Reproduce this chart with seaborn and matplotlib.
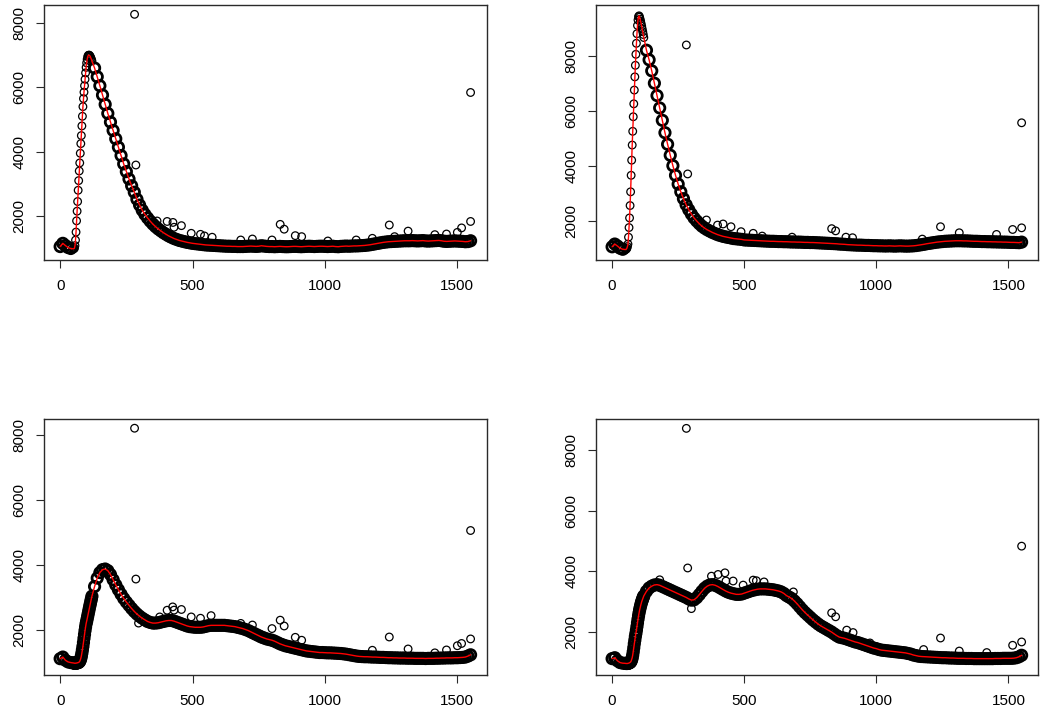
import matplotlib
matplotlib.use("Agg")
import matplotlib.pyplot as plt
import numpy as np
import seaborn as sns

sns.set_style("ticks")
plt.rcParams['font.family'] = ['Liberation Sans', 'DejaVu Sans']

# ---------------- data ----------------
time_head = [0, 10, 20, 30, 40]
time_rise = list(range(50, 121, 2))
time_tail = list(range(130, 1551, 10))
time = time_head + time_rise + time_tail

# panel A (top left)
a_head = [1050, 1150, 1080, 1020, 990]
a_rise = [980, 985, 1000, 1080, 1250, 1500, 1850, 2150, 2450, 2800,
          3100, 3400, 3650, 3950, 4250, 4500, 4800, 5100, 5400, 5650,
          5850, 6050, 6250, 6450, 6620, 6760, 6870, 6950, 6990, 7000,
          7000, 6980, 6950, 6910, 6870, 6820]
a_tail = [6600, 6330, 6050, 5760, 5470, 5190, 4920, 4660, 4400, 4140,
          3880, 3620, 3380, 3150, 2940, 2740, 2520, 2340, 2180, 2050,
          1940, 1840, 1750, 1670, 1600, 1540, 1480, 1430, 1380, 1340,
          1300, 1270, 1240, 1220, 1200, 1180, 1165, 1150, 1140, 1130,
          1120, 1110, 1100, 1095, 1090, 1085, 1080, 1075, 1070, 1065,
          1060, 1060, 1055, 1055, 1050, 1050, 1050, 1055, 1060, 1065,
          1060, 1055, 1060, 1075, 1065, 1055, 1050, 1050, 1045, 1050,
          1055, 1050, 1045, 1045, 1050, 1055, 1055, 1050, 1045, 1050,
          1055, 1060, 1055, 1050, 1055, 1060, 1060, 1055, 1050, 1055,
          1060, 1050, 1045, 1055, 1060, 1065, 1060, 1065, 1070, 1070,
          1075, 1080, 1085, 1095, 1105, 1120, 1135, 1150, 1165, 1180,
          1190, 1200, 1205, 1210, 1215, 1220, 1225, 1230, 1230, 1230,
          1235, 1230, 1225, 1230, 1235, 1225, 1220, 1225, 1230, 1235,
          1240, 1230, 1215, 1210, 1215, 1220, 1225, 1220, 1215, 1210,
          1200, 1205, 1230]
a_out_x = [281, 286, 1550, 1550, 831, 846, 1243, 1314, 1516, 366, 404, 426, 430,
           458, 495, 530, 545, 574, 682, 726, 800, 888, 912, 1011, 1118, 1179,
           1263, 1415, 1459, 1500]
a_out_y = [8270, 3585, 5840, 1830, 1740, 1590, 1720, 1530, 1630, 1845, 1830, 1800,
           1650, 1700, 1462, 1430, 1380, 1340, 1254, 1285, 1254, 1389, 1358, 1223,
           1254, 1306, 1358, 1420, 1440, 1490]

# panel B (top right)
b_head = [1050, 1150, 1080, 1000, 960]
b_rise = [950, 955, 970, 1000, 1060, 1150, 1400, 1750, 2100, 2550,
          3050, 3650, 4200, 4750, 5250, 5780, 6250, 6750, 7230, 7650,
          8050, 8450, 8800, 9100, 9300, 9420, 9450, 9400, 9330, 9250,
          9160, 9070, 8970, 8870, 8770, 8660]
b_tail = [8200, 7850, 7450, 7000, 6550, 6100, 5650, 5200, 4780, 4380,
          4000, 3650, 3330, 3050, 2800, 2580, 2400, 2240, 2100, 1990,
          1890, 1800, 1730, 1670, 1620, 1570, 1530, 1490, 1460, 1430,
          1410, 1390, 1370, 1350, 1340, 1330, 1320, 1300, 1295, 1290,
          1285, 1280, 1275, 1270, 1265, 1260, 1255, 1250, 1250, 1245,
          1240, 1240, 1235, 1235, 1230, 1225, 1225, 1220, 1220, 1215,
          1210, 1210, 1205, 1205, 1200, 1195, 1190, 1185, 1180, 1175,
          1170, 1165, 1160, 1150, 1145, 1140, 1130, 1125, 1120, 1115,
          1110, 1110, 1105, 1100, 1100, 1095, 1090, 1090, 1085, 1085,
          1080, 1080, 1085, 1080, 1075, 1080, 1085, 1080, 1075, 1075,
          1080, 1085, 1095, 1110, 1125, 1140, 1160, 1175, 1190, 1205,
          1220, 1230, 1240, 1250, 1255, 1260, 1265, 1270, 1270, 1270,
          1265, 1265, 1260, 1255, 1250, 1250, 1245, 1240, 1240, 1235,
          1235, 1230, 1230, 1225, 1225, 1220, 1220, 1215, 1210, 1210,
          1205, 1200, 1220]
b_out_x = [281, 286, 1550, 1550, 831, 846, 1243, 1314, 1516, 357, 399, 420, 450,
           488, 534, 568, 681, 885, 910, 1174, 1455]
b_out_y = [8390, 3700, 5560, 1740, 1710, 1630, 1780, 1560, 1680, 2025, 1840, 1880,
           1780, 1600, 1540, 1440, 1400, 1400, 1380, 1330, 1500]

# panel C (bottom left)
c_head = [1100, 1150, 1050, 1000, 980]
c_rise = [970, 965, 960, 960, 960, 965, 965, 970, 975, 980,
          985, 1000, 1020, 1060, 1110, 1180, 1270, 1370, 1480, 1600,
          1730, 1850, 1970, 2080, 2180, 2250, 2330, 2410, 2490, 2570,
          2650, 2730, 2800, 2880, 2950, 3030]
c_tail = [3330, 3590, 3760, 3850, 3870, 3820, 3700, 3540, 3380, 3230,
          3090, 2960, 2850, 2750, 2650, 2560, 2480, 2410, 2350, 2300,
          2250, 2220, 2200, 2200, 2210, 2230, 2250, 2270, 2280, 2280,
          2260, 2230, 2200, 2170, 2140, 2110, 2090, 2080, 2070, 2070,
          2070, 2080, 2100, 2120, 2130, 2130, 2130, 2130, 2130, 2130,
          2120, 2110, 2100, 2090, 2070, 2050, 2030, 2000, 1970, 1930,
          1890, 1850, 1810, 1770, 1740, 1710, 1690, 1670, 1640, 1600,
          1560, 1530, 1500, 1480, 1460, 1440, 1420, 1400, 1380, 1360,
          1340, 1330, 1320, 1310, 1300, 1290, 1290, 1285, 1280, 1280,
          1275, 1270, 1265, 1260, 1250, 1240, 1225, 1210, 1195, 1180,
          1170, 1165, 1160, 1160, 1155, 1150, 1150, 1145, 1140, 1140,
          1135, 1130, 1130, 1125, 1125, 1120, 1120, 1120, 1115, 1115,
          1115, 1110, 1110, 1110, 1110, 1105, 1110, 1110, 1110, 1115,
          1115, 1120, 1120, 1125, 1125, 1125, 1130, 1130, 1135, 1140,
          1150, 1180, 1220]
c_out_x = [281, 286, 1550, 1550, 831, 846, 888, 912, 1243, 1314, 1516, 353, 376,
           404, 425, 430, 458, 495, 530, 570, 682, 726, 800, 1179, 1415, 1459,
           1500, 296]
c_out_y = [8220, 3560, 5060, 1710, 2290, 2110, 1760, 1670, 1770, 1400, 1570, 2150,
           2390, 2597, 2700, 2600, 2620, 2390, 2350, 2430, 2190, 2140, 2030, 1360,
           1280, 1370, 1500, 2200]

# panel D (bottom right)
d_head = [1120, 1150, 1050, 990, 970]
d_rise = [965, 960, 960, 960, 960, 965, 970, 975, 985, 995,
          1010, 1040, 1090, 1150, 1240, 1350, 1480, 1610, 1730, 1850,
          1950, 2060, 2180, 2300, 2420, 2530, 2630, 2720, 2800, 2870,
          2940, 3000, 3050, 3100, 3150, 3190]
d_tail = [3340, 3450, 3510, 3550, 3560, 3540, 3500, 3460, 3420, 3380,
          3340, 3300, 3260, 3220, 3180, 3140, 3090, 3050, 3060, 3130,
          3230, 3340, 3440, 3510, 3550, 3560, 3540, 3500, 3450, 3400,
          3350, 3310, 3280, 3260, 3240, 3240, 3250, 3280, 3310, 3340,
          3370, 3390, 3410, 3420, 3420, 3420, 3410, 3400, 3390, 3370,
          3350, 3320, 3270, 3200, 3150, 3100, 3020, 2930, 2830, 2730,
          2640, 2560, 2480, 2400, 2330, 2260, 2200, 2150, 2100, 2050,
          2000, 1940, 1880, 1830, 1810, 1790, 1760, 1730, 1700, 1670,
          1650, 1620, 1590, 1560, 1530, 1500, 1470, 1450, 1420, 1400,
          1390, 1380, 1370, 1360, 1350, 1340, 1330, 1320, 1310, 1290,
          1270, 1240, 1220, 1200, 1190, 1185, 1180, 1175, 1170, 1165,
          1160, 1155, 1150, 1150, 1145, 1140, 1140, 1135, 1130, 1130,
          1130, 1125, 1125, 1125, 1120, 1120, 1120, 1120, 1120, 1120,
          1120, 1120, 1125, 1125, 1125, 1130, 1130, 1130, 1130, 1135,
          1150, 1180, 1230]
d_out_x = [281, 286, 1550, 1550, 831, 846, 888, 912, 1243, 1314, 1516, 300, 376,
           401, 427, 431, 458, 496, 534, 546, 575, 686, 976, 1179, 1418, 180]
d_out_y = [8715, 4110, 4830, 1670, 2630, 2500, 2060, 1980, 1800, 1370, 1560, 2770,
           3840, 3896, 3950, 3680, 3680, 3545, 3710, 3690, 3650, 3320, 1637, 1420,
           1320, 3720]

x_ticks = [0, 500, 1000, 1500]
y_ticks = [2000, 4000, 6000, 8000]

# (head, rise, tail, outlier x, outlier y, ylim, box px, sharp rise?)
panels = [
    (a_head, a_rise, a_tail, a_out_x, a_out_y, (632, 8560), (44, 5, 487, 260), True),
    (b_head, b_rise, b_tail, b_out_x, b_out_y, (570, 9844), (596, 5, 1038, 260), True),
    (c_head, c_rise, c_tail, c_out_x, c_out_y, (596, 8505), (44, 419, 487, 675), False),
    (d_head, d_rise, d_tail, d_out_x, d_out_y, (580, 9024), (596, 419, 1038, 675), False),
]

W, H = 1050, 723
fig = plt.figure(figsize=(W / 100, H / 100), dpi=100)
edge = '#2a2a2a'
band = dict(marker='o', s=56, facecolor='none', edgecolor='black',
            linewidth=2.0, legend=False, zorder=2)
thin = dict(marker='o', s=30, facecolor='none', edgecolor='black',
            linewidth=0.9, legend=False, zorder=2)

for head, rise, tail, ox, oy, ylim, (l, t, r, b), sharp in panels:
    sig = head + rise + tail
    assert len(sig) == len(time)
    ax = fig.add_axes([l / W, 1 - b / H, (r - l) / W, (b - t) / H])
    # dense band of observations
    sns.scatterplot(x=time_head + time_tail, y=head + tail, ax=ax, **band)
    # rise segment
    sns.scatterplot(x=time_rise, y=rise, ax=ax, **(thin if sharp else band))
    # isolated points
    sns.scatterplot(x=ox, y=oy, ax=ax, **thin)
    sns.lineplot(x=time, y=sig, ax=ax, color='#ff0000', linewidth=1.0,
                 estimator=None, sort=False, zorder=3)
    ax.set_xlim(-61, 1612)
    ax.set_ylim(*ylim)
    ax.set_xticks(x_ticks)
    ax.set_yticks(y_ticks)
    ax.set_xticklabels([str(v) for v in x_ticks])
    ax.set_yticklabels([str(v) for v in y_ticks], rotation=90, va='center')
    ax.set_xlabel('')
    ax.set_ylabel('')
    for sp in ax.spines.values():
        sp.set_visible(True)
        sp.set_color(edge)
        sp.set_linewidth(1.0)
    ax.tick_params(axis='both', direction='out', length=5.5, width=0.8,
                   color=edge, labelsize=11, labelcolor='black')
    ax.tick_params(axis='x', pad=8)
    ax.tick_params(axis='y', pad=7)

fig.savefig('out.png', dpi=100, facecolor='white')
